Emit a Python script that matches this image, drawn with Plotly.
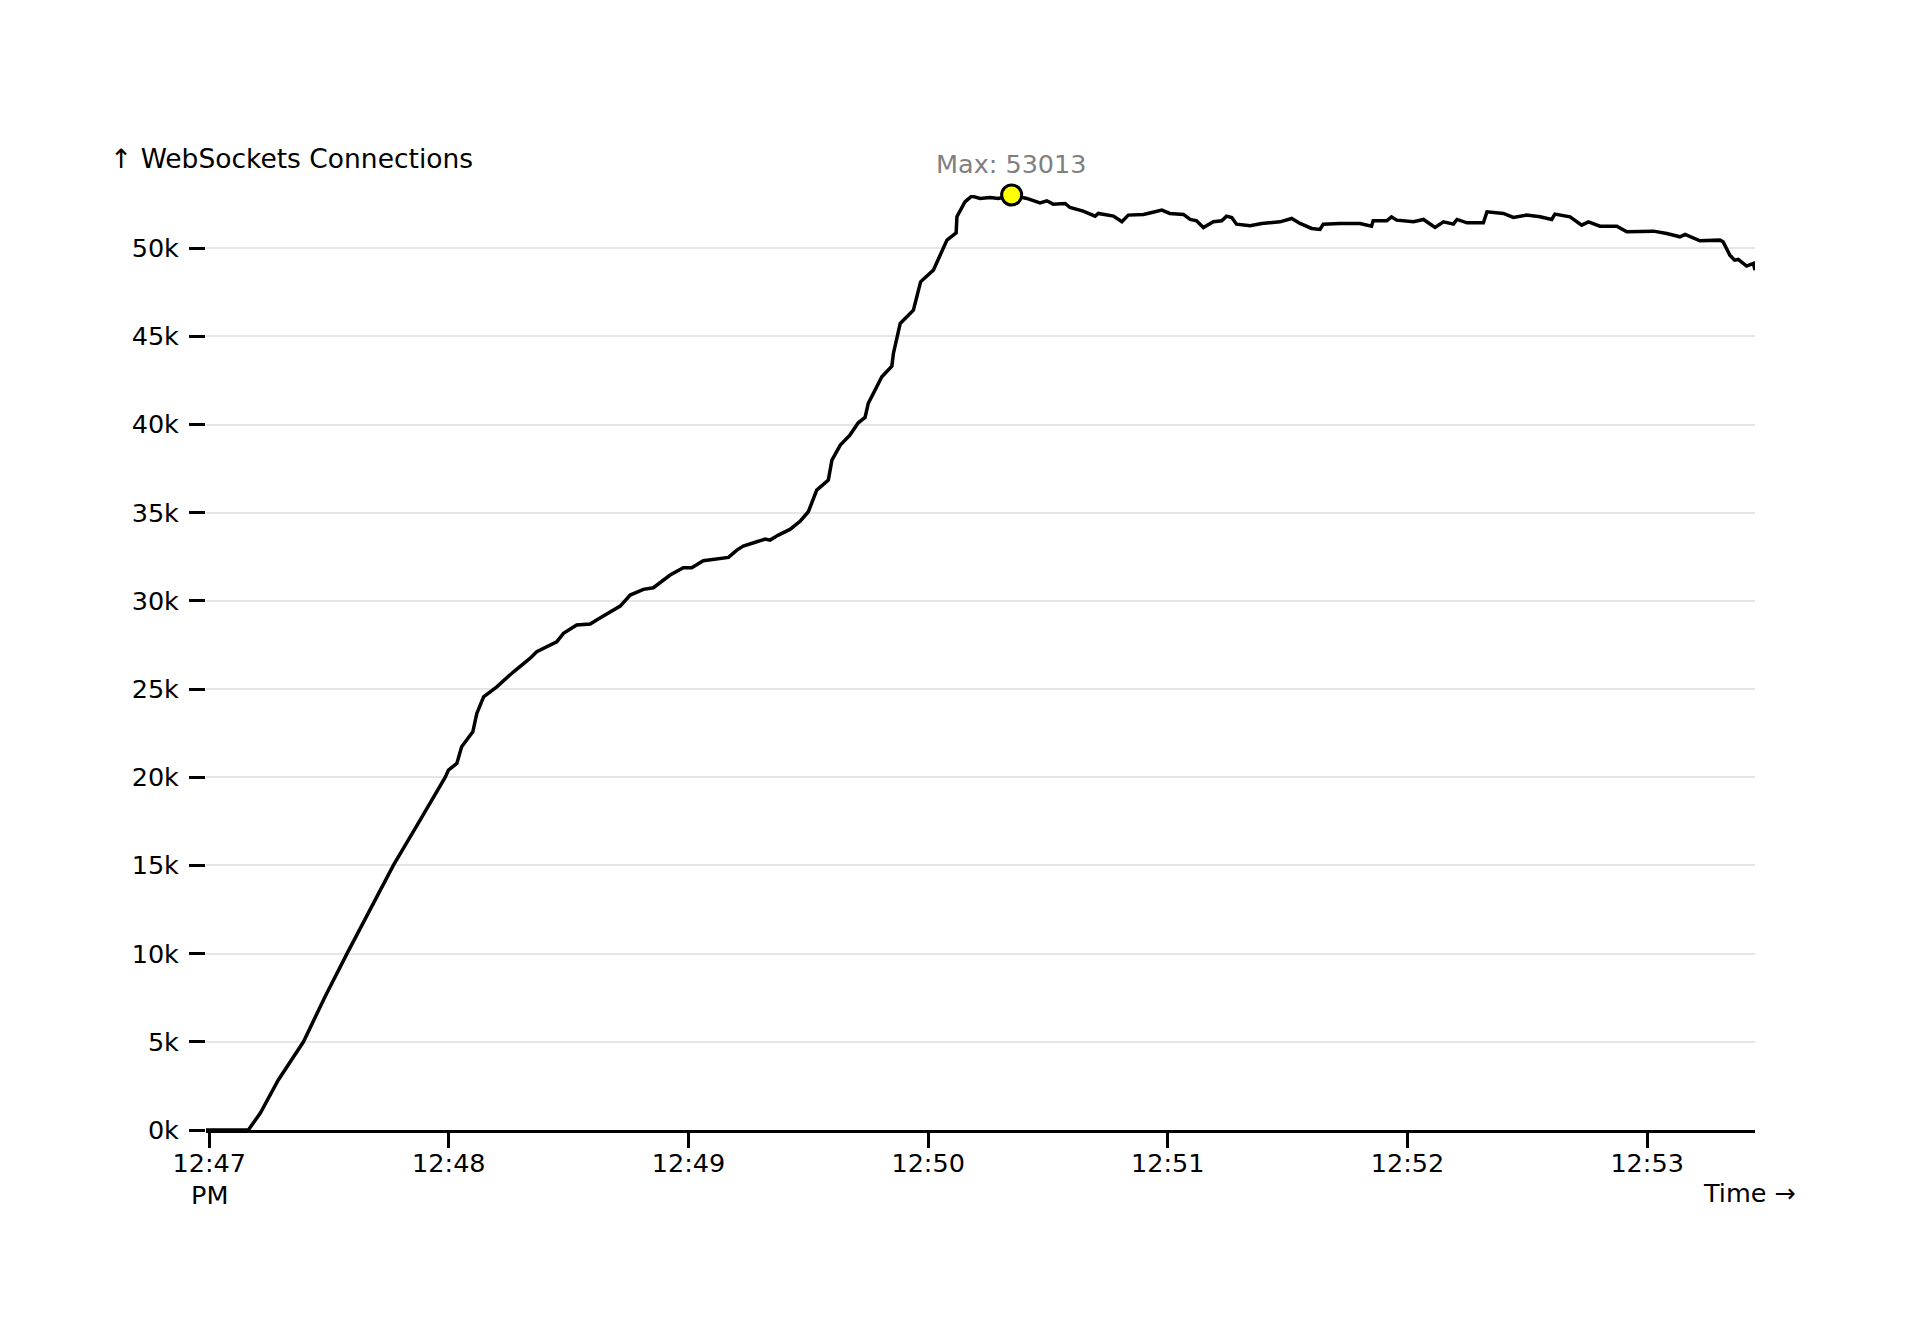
import pandas as pd
import plotly.graph_objects as go

# ---- data (seconds after 12:47:00 PM, connections) ----
seconds = [-0.8, 9.8, 12.8, 17.3, 23.6, 29.0, 34.5, 40.3, 46.1, 52.8,
           59.1, 59.9, 62.0, 63.2, 66.0, 67.0, 68.7, 72.0, 76.2, 80.3,
           82.0, 87.0, 88.7, 92.0, 95.4, 97.0, 99.5, 102.9, 105.4, 108.7,
           111.2, 115.4, 118.7, 120.8, 123.7, 127.1, 130.0, 132.1, 133.7, 137.1,
           139.2, 140.4, 142.5, 145.4, 148.0, 150.0, 152.1, 155.0, 155.9, 158.0,
           160.4, 162.5, 164.2, 165.0, 168.4, 170.9, 171.3, 173.0, 176.3, 178.1,
           181.3, 184.7, 187.0, 187.2, 189.2, 190.9, 193.0, 195.5, 197.6, 200.9,
           204.7, 208.0, 209.7, 211.3, 214.3, 215.5, 218.8, 221.8, 222.6, 226.4,
           228.5, 230.1, 233.9, 236.0, 238.5, 240.5, 243.9, 245.6, 247.2, 248.9,
           251.4, 253.5, 254.7, 256.0, 257.2, 260.6, 263.5, 268.1, 271.0, 273.1,
           276.0, 278.1, 278.9, 283.1, 288.1, 291.0, 291.4, 294.8, 296.0, 297.3,
           301.5, 304.0, 306.9, 309.0, 311.5, 312.4, 314.9, 319.0, 319.9, 324.0,
           326.5, 329.8, 333.2, 336.1, 336.9, 340.7, 343.6, 345.3, 348.2, 352.4,
           354.9, 361.6, 364.9, 368.2, 369.5, 373.2, 378.2, 379.0, 380.7, 381.9,
           382.8, 384.9, 386.6, 387.0]

connections = [0, 0, 964, 2835, 5000, 7557, 10000, 12472, 15000, 17574,
               20000, 20409, 20787, 21730, 22580, 23620, 24564, 25130, 25980, 26740,
               27115, 27680, 28157, 28630, 28685, 28912, 29252, 29706, 30330, 30652,
               30746, 31465, 31881, 31881, 32277, 32353, 32466, 32880, 33107, 33352,
               33504, 33447, 33730, 34053, 34530, 35054, 36283, 36850, 37984, 38834,
               39400, 40097, 40400, 41195, 42706, 43311, 44030, 45731, 46485, 48090,
               48753, 50454, 50870, 51777, 52627, 52948, 52818, 52873, 52818, 53013,
               52818, 52570, 52683, 52495, 52532, 52306, 52098, 51815, 51967, 51815,
               51493, 51872, 51910, 52023, 52155, 51967, 51910, 51626, 51550, 51172,
               51493, 51550, 51815, 51740, 51360, 51266, 51400, 51493, 51682, 51400,
               51115, 51059, 51360, 51400, 51400, 51247, 51550, 51550, 51777, 51588,
               51493, 51626, 51172, 51493, 51360, 51626, 51436, 51436, 52060, 51967,
               51740, 51872, 51777, 51626, 51928, 51777, 51304, 51493, 51247, 51247,
               50926, 50964, 50832, 50643, 50776, 50417, 50454, 50360, 49605, 49322,
               49360, 48981, 49132, 48753]

tick_minutes = [0, 1, 2, 3, 4, 5, 6]
tick_labels = ["12:47", "12:48", "12:49", "12:50", "12:51", "12:52", "12:53"]
y_ticks = [0, 5000, 10000, 15000, 20000, 25000, 30000, 35000, 40000, 45000, 50000]
y_tick_labels = ["0k", "5k", "10k", "15k", "20k", "25k", "30k", "35k", "40k", "45k", "50k"]

base = pd.Timestamp("2024-01-01 12:47:00")
times = [base + pd.Timedelta(seconds=s) for s in seconds]
tick_times = [base + pd.Timedelta(minutes=m) for m in tick_minutes]

vmax = max(connections)
imax = connections.index(vmax)

W, H = 1920, 1322
OFF = 8  # page body margin
L, R, T, B = 206 - OFF, 1755 - OFF, 195 - OFF, 1130 - OFF
FONT = "DejaVu Sans, Inter, sans-serif"
FS = 25.5


def px_x(px):
    return (px - OFF - L) / (R - L)


def px_y(py):
    return (B - (py - OFF)) / (B - T)


fig = go.Figure()
fig.add_trace(go.Scatter(
    x=times, y=connections, mode="lines",
    line=dict(color="black", width=3.5),
    hoverinfo="skip", showlegend=False,
))
fig.add_trace(go.Scatter(
    x=[times[imax]], y=[vmax], mode="markers",
    marker=dict(size=20, color="#ffff00", line=dict(color="black", width=3)),
    showlegend=False, cliponaxis=False,
))

fig.update_layout(
    width=W, height=H,
    margin=dict(l=L, r=W - R, t=T, b=H - B, pad=0),
    paper_bgcolor="white", plot_bgcolor="white",
    font=dict(family=FONT, size=FS, color="black"),
    xaxis=dict(
        type="date", range=[times[0], times[-1]],
        tickvals=tick_times, ticktext=tick_labels,
        ticks="outside", ticklen=15, tickwidth=2.5, tickcolor="black",
        showline=True, linecolor="black", linewidth=2.5,
        showgrid=False, zeroline=False, ticklabelstandoff=-6,
        tickfont=dict(size=FS, color="black", family=FONT),
    ),
    yaxis=dict(
        range=[0, vmax],
        tickvals=y_ticks, ticktext=y_tick_labels,
        ticks="outside", ticklen=16, tickwidth=2.5, tickcolor="black",
        showgrid=True, gridcolor="#e6e6e6", gridwidth=2,
        showline=False, zeroline=False, ticklabelstandoff=5,
        tickfont=dict(size=FS, color="black", family=FONT),
    ),
)

fig.add_annotation(
    x=times[imax], y=vmax, xref="x", yref="y",
    text=f"Max: {vmax}", showarrow=False, yshift=31,
    font=dict(size=FS, color="#808080", family=FONT),
)
fig.add_annotation(
    x=px_x(108), y=px_y(159), xref="paper", yref="paper",
    xanchor="left", yanchor="middle", showarrow=False,
    text="↑ WebSockets Connections", font=dict(size=26.5, color="black", family=FONT),
)
fig.add_annotation(
    x=px_x(1798), y=px_y(1193), xref="paper", yref="paper",
    xanchor="right", yanchor="middle", showarrow=False,
    text="Time →", font=dict(size=FS, color="black", family=FONT),
)
fig.add_annotation(
    x=tick_times[0], y=px_y(1195), xref="x", yref="paper",
    xanchor="center", yanchor="middle", showarrow=False, borderpad=0,
    text="PM", font=dict(size=FS, color="black", family=FONT),
)

fig.write_html("out.html")
